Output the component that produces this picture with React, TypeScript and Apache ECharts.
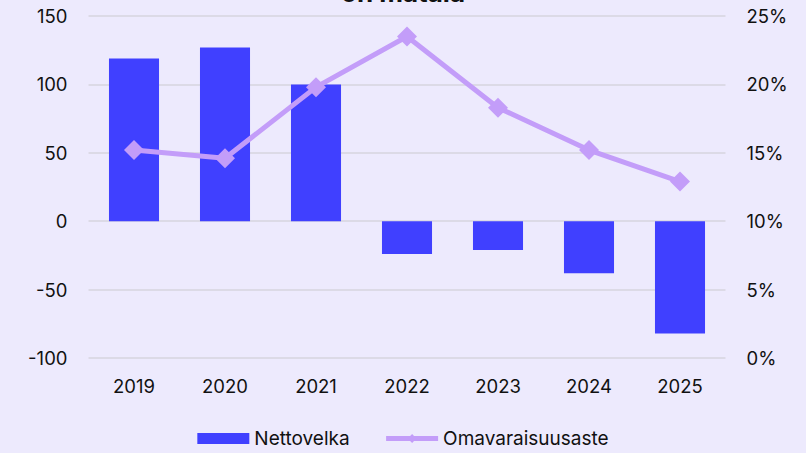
import React, { useEffect, useRef } from "react";
import * as echarts from "echarts";

const categories = ["2019", "2020", "2021", "2022", "2023", "2024", "2025"];
const nettovelka = [119, 127, 100, -24, -21, -38, -82];
const omavaraisuusaste = [15.2, 14.6, 19.8, 23.5, 18.3, 15.2, 12.9];
const titleText = "on matala";

export default function App() {
  const ref = useRef<HTMLDivElement>(null);
  useEffect(() => {
    const chart = echarts.init(ref.current!, null, { renderer: "svg" });
    const font = "Inter, 'Liberation Sans', sans-serif";
    chart.setOption({
      animation: false,
      backgroundColor: "#EDEAFD",
      textStyle: { fontFamily: font },
      title: {
        text: titleText,
        left: "center",
        top: -26,
        textStyle: { fontSize: 26, fontWeight: "bold", color: "#111", fontFamily: font },
      },
      grid: { left: 88.5, right: 80.5, top: 16, bottom: 95 },
      legend: {
        bottom: 0,
        left: "center",
        itemWidth: 52,
        itemHeight: 11,
        itemGap: 34,
        textStyle: { fontSize: 19, color: "#111", fontFamily: font },
        data: [
          { name: "Nettovelka", icon: "rect" },
          { name: "Omavaraisuusaste", lineStyle: { width: 5 } },
        ],
      },
      xAxis: {
        type: "category",
        data: categories,
        axisLine: { show: false },
        axisTick: { show: false },
        axisLabel: { fontSize: 18.5, color: "#111", margin: 18 },
      },
      yAxis: [
        {
          type: "value",
          min: -100,
          max: 150,
          interval: 50,
          axisLabel: { fontSize: 18.5, color: "#111", margin: 21 },
          splitLine: { lineStyle: { color: "#D6D4DE", width: 1.5 } },
        },
        {
          type: "value",
          min: 0,
          max: 25,
          interval: 5,
          axisLabel: { fontSize: 18.5, color: "#111", margin: 21, formatter: "{value}%" },
          splitLine: { show: false },
        },
      ],
      series: [
        {
          name: "Nettovelka",
          type: "bar",
          data: nettovelka,
          barWidth: "55%",
          itemStyle: { color: "#4040FF" },
        },
        {
          name: "Omavaraisuusaste",
          type: "line",
          yAxisIndex: 1,
          data: omavaraisuusaste,
          symbol: "diamond",
          symbolSize: 20,
          lineStyle: { color: "#C39DF9", width: 5 },
          itemStyle: { color: "#C39DF9" },
        },
      ],
    });
    return () => chart.dispose();
  }, []);
  return (
    <div
      ref={ref}
      style={{ position: "fixed", left: 0, top: 0, width: 806, height: 453 }}
    />
  );
}
